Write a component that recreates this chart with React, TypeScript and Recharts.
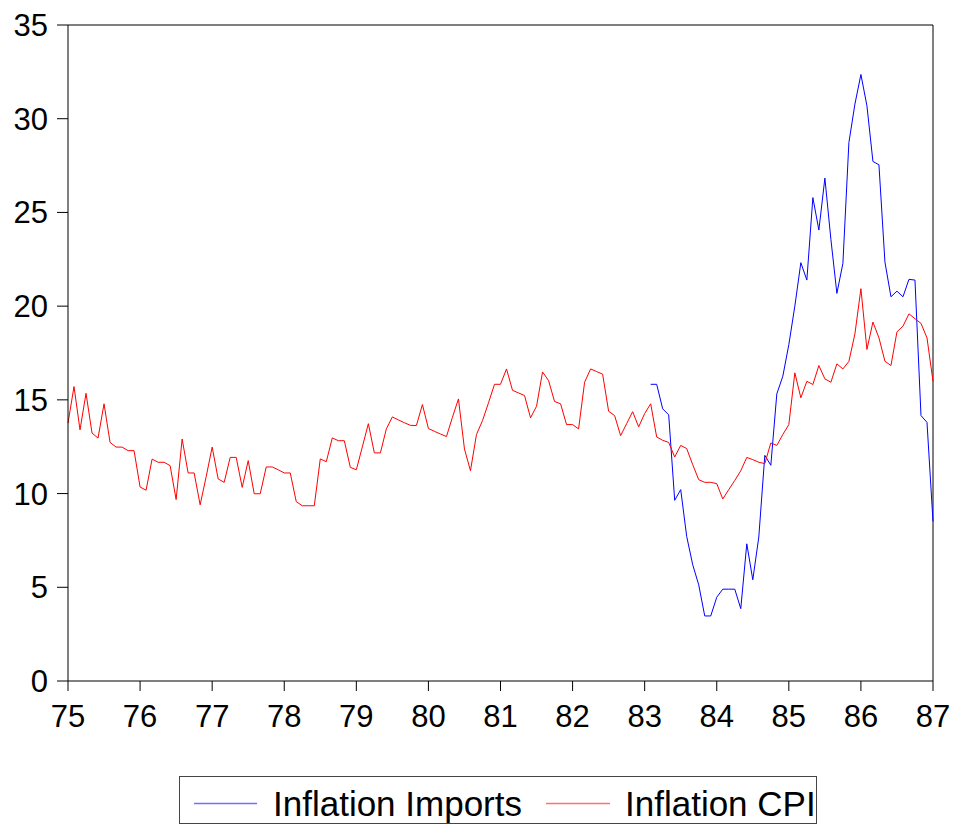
import { LineChart, Line, XAxis, YAxis, ReferenceLine } from "recharts";

// monthly series, 1975M1 .. 1987M1
const yearLabels = ["75", "76", "77", "78", "79", "80", "81", "82", "83", "84", "85", "86", "87"];
const yTicks = [0, 5, 10, 15, 20, 25, 30, 35];

const cpi = [
  13.76, 15.71, 13.4, 15.35, 13.23, 12.96, 14.79, 12.73, 12.48, 12.48, 12.29, 12.29,
  10.35, 10.18, 11.84, 11.67, 11.67, 11.49, 9.68, 12.91, 11.1, 11.1, 9.4, 10.9,
  12.48, 10.78, 10.6, 11.93, 11.93, 10.33, 11.76, 9.99, 9.99, 11.42, 11.42, 11.27,
  11.1, 11.1, 9.57, 9.35, 9.35, 9.35, 11.85, 11.7, 12.97, 12.82, 12.82, 11.4,
  11.27, 12.49, 13.73, 12.17, 12.17, 13.45, 14.09, 13.93, 13.78, 13.64, 13.63, 14.75,
  13.47, 13.32, 13.18, 13.04, 14.07, 15.05, 12.38, 11.22, 13.15, 13.89, 14.84, 15.83,
  15.83, 16.65, 15.51, 15.37, 15.23, 14.04, 14.66, 16.49, 16.03, 14.91, 14.79, 13.68,
  13.68, 13.45, 15.94, 16.65, 16.51, 16.37, 14.39, 14.16, 13.09, 13.73, 14.37, 13.56,
  14.27, 14.79, 13.02, 12.84, 12.73, 11.95, 12.57, 12.4, 11.54, 10.74, 10.6, 10.6,
  10.53, 9.71, 10.21, 10.7, 11.22, 11.93, 11.81, 11.67, 11.6, 12.7, 12.57, 13.15,
  13.68, 16.44, 15.11, 15.99, 15.82, 16.83, 16.12, 15.94, 16.92, 16.65, 17.05, 18.52,
  20.93, 17.69, 19.15, 18.31, 17.06, 16.83, 18.63, 18.93, 19.59, 19.33, 19.08, 18.31,
  15.99,
];

// imports start in 1983M2 (month index 97)
const importsStart = 97;
const imports = [
  15.83, 15.83, 14.52, 14.2, 9.64, 10.21, 7.71, 6.2, 5.13, 3.47, 3.47,
  4.47, 4.9, 4.9, 4.9, 3.86, 7.32, 5.4, 7.68, 12.04, 11.51, 15.32, 16.26,
  17.95, 20.0, 22.32, 21.39, 25.79, 24.06, 26.83, 23.57, 20.68, 22.28, 28.73, 30.78,
  32.36, 30.69, 27.72, 27.54, 22.35, 20.5, 20.8, 20.5, 21.43, 21.39, 14.16, 13.8,
  8.51,
];

const data = cpi.map((v, i) => ({
  t: i,
  cpi: v,
  imp: i >= importsStart ? imports[i - importsStart] : null,
}));

const FONT = "'Liberation Sans', Arial, sans-serif";
const lastT = cpi.length - 1;

export default function App() {
  return (
    <div style={{ position: "absolute", left: 0, top: 0, width: 954, height: 827, background: "#fff", fontFamily: FONT }}>
      <LineChart width={954} height={827} data={data} margin={{ top: 25, right: 21, bottom: 86, left: 0 }}>
        <XAxis
          dataKey="t"
          type="number"
          domain={[0, lastT]}
          ticks={yearLabels.map((_, i) => i * 12)}
          tickFormatter={(v) => yearLabels[Math.round(v / 12)]}
          interval={0}
          height={60}
          tickSize={10}
          tickMargin={14}
          axisLine={{ stroke: "#000" }}
          tickLine={{ stroke: "#000" }}
          tick={{ fontSize: 31, fill: "#000", fontFamily: FONT }}
        />
        <YAxis
          domain={[0, 35]}
          ticks={yTicks}
          interval={0}
          width={68}
          tickSize={11}
          tickMargin={9}
          axisLine={{ stroke: "#000" }}
          tickLine={{ stroke: "#000" }}
          tick={{ fontSize: 31, fill: "#000", fontFamily: FONT }}
        />
        <ReferenceLine y={35} stroke="#000" />
        <ReferenceLine x={lastT} stroke="#000" />
        <Line dataKey="imp" stroke="#0000ff" strokeWidth={1} dot={false} isAnimationActive={false} connectNulls={false} />
        <Line dataKey="cpi" stroke="#ff0000" strokeWidth={1} dot={false} isAnimationActive={false} />
      </LineChart>

      <svg width={954} height={827} style={{ position: "absolute", left: 0, top: 0, pointerEvents: "none" }}>
        <rect x={179.5} y={776.5} width={637} height={47} fill="none" stroke="#444" />
        <line x1={194} x2={257} y1={803.5} y2={803.5} stroke="#7070ff" strokeWidth={1.5} />
        <text x={273} y={816} fontSize={35} fontFamily={FONT} fill="#000">Inflation Imports</text>
        <line x1={546} x2={610} y1={803.5} y2={803.5} stroke="#ff7070" strokeWidth={1.5} />
        <text x={625} y={816} fontSize={35} fontFamily={FONT} fill="#000">Inflation CPI</text>
      </svg>
    </div>
  );
}
